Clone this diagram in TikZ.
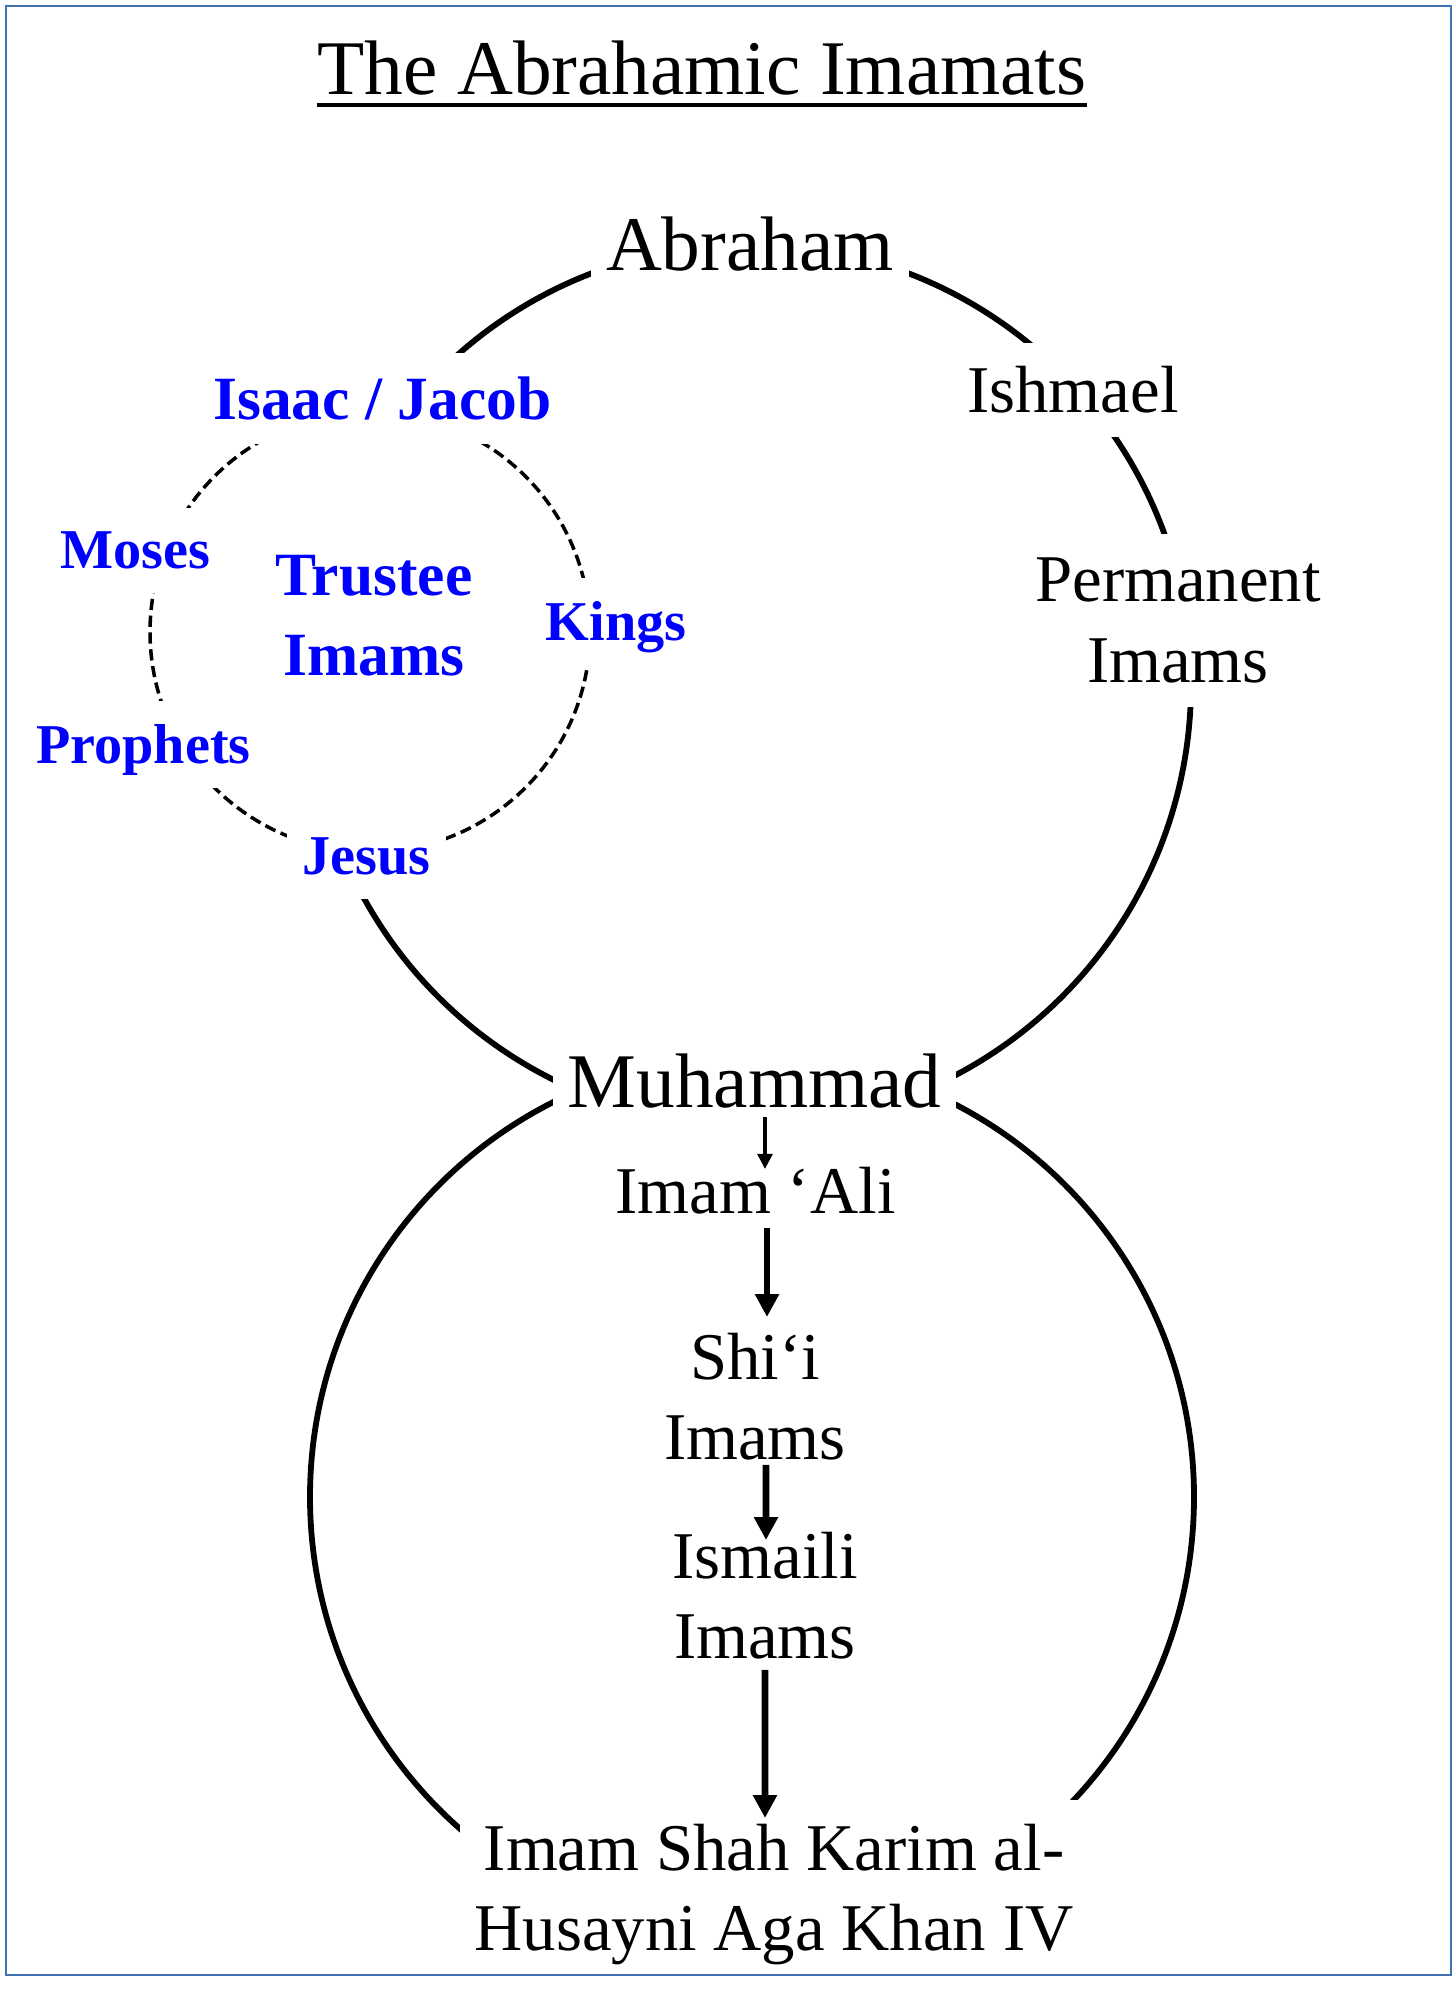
\documentclass[tikz,border=0pt]{standalone}
\usepackage{fontspec}
\setmainfont{Liberation Serif}
\usetikzlibrary{arrows.meta,calc}
\definecolor{frameblue}{RGB}{65,113,176}

\begin{document}
\begin{tikzpicture}[ring/.style={line width=1.65pt},
	tag/.style={fill=white,inner xsep=0.15cm,inner ysep=0.24cm},
	one/.style={tag,anchor=base,text depth=0pt},
	big/.style={font=\fontsize{22}{26}\selectfont},
	std/.style={font=\fontsize{19}{23}\selectfont,align=center},
	trustee/.style={text=blue,font=\bfseries\fontsize{16}{20}\selectfont},
	thin/.style={-{Triangle[width=4.2pt,length=4.3pt]},line width=1pt},
	thick/.style={-{Triangle[width=6.5pt,length=6.5pt]},line width=1.9pt}]

	\useasboundingbox (0,0) rectangle (14.56,20.07);

	\coordinate (up) at (7.50,13.22);
	\coordinate (low) at (7.52,5.10);
	\coordinate (inner) at (3.70,13.75);

	\draw[ring] (up) ++(135:4.41) arc[start angle=135,end angle=-155,radius=4.41];
	\draw[ring] (low) circle[radius=4.42];
	\draw[line width=1pt,dash pattern=on 3.2pt off 1.6pt] (inner) circle[radius=2.2];

	\node[big,inner sep=0pt,anchor=base] (title) at (7.02,19.12) {The Abrahamic Imamats};
	\draw[line width=0.9pt] ($(title.base west)+(0,-0.1)$) -- ($(title.base east)+(0,-0.1)$);

	\node[one,big] (abraham) at (7.50,17.36) {Abraham};
	\node[one,std] (ishmael) at (10.73,15.94) {Ishmael};
	\node[tag,std,anchor=north] (permanent) at (11.78,14.74) {Permanent\\Imams};

	\node[one,trustee,font=\bfseries\fontsize{17.5}{22}\selectfont] (isaac) at (3.825,15.87) {Isaac / Jacob};
	\node[one,trustee] (moses) at (1.355,14.38) {Moses};
	\node[tag,trustee,align=center,anchor=north,font=\bfseries\fontsize{17.5}{22.5}\selectfont] (trusteeimams) at (3.74,14.76) {Trustee\\Imams};
	\node[one,trustee] (kings) at (6.16,13.66) {Kings};
	\node[one,trustee] (prophets) at (1.435,12.43) {Prophets};
	\node[one,trustee] (jesus) at (3.665,11.32) {Jesus};

	\node[one,big] (muhammad) at (7.545,8.99) {Muhammad};
	\node[one,std] (ali) at (7.555,7.93) {Imam ‘Ali};
	\node[tag,std,anchor=north] (shii) at (7.55,6.99) {Shi‘i\\Imams};
	\node[tag,std,anchor=north] (ismaili) at (7.65,5.00) {Ismaili\\Imams};
	\node[tag,std,anchor=north] (imamshah) at (7.74,2.08) {Imam Shah Karim al-\\Husayni Aga Khan IV};

	\draw[thin] ($(muhammad.base)+(0.105,-0.09)$) -- ($(ali.base)+(0.095,0.45)$);
	\draw[thick] ($(ali.base)+(0.115,-0.14)$) -- ($(shii.north)+(0.12,-0.09)$);
	\draw[thick] ($(shii.north)+(0.11,-1.57)$) -- ($(ismaili.north)+(0.01,-0.33)$);
	\draw[thick] ($(ismaili.north)+(0,-1.63)$) -- ($(imamshah.north)+(-0.09,-0.19)$);

	\draw[frameblue,line width=0.7pt] (0.06,0.32) rectangle (14.51,20.01);
\end{tikzpicture}
\end{document}
